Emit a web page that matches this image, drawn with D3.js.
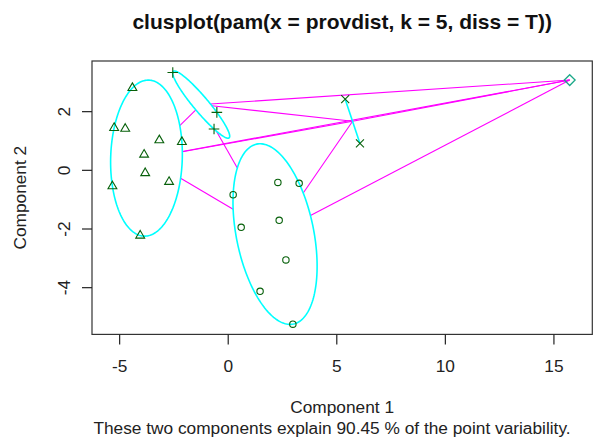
<!DOCTYPE html>
<html>
<head>
<meta charset="utf-8">
<script src="https://cdn.jsdelivr.net/npm/d3@7"></script>
<style>
  html, body { margin: 0; padding: 0; background: #fff; }
  svg { display: block; font-family: "Liberation Sans", Arial, sans-serif; }
</style>
</head>
<body>
<svg id="chart" width="594" height="437"></svg>
<script>
// Principal-component coordinates of each observation, grouped by PAM cluster
const cluster1 = [ // circles
  [2.31, -0.43], [3.29, -0.46], [0.25, -0.85], [2.37, -1.72],
  [0.62, -1.96], [2.68, -3.07], [1.49, -4.14], [3.00, -5.26]
];
const cluster2 = [ // triangles
  [-4.39, 2.79], [-5.23, 1.43], [-4.72, 1.40], [-3.15, 1.01], [-2.11, 0.95],
  [-3.85, 0.52], [-3.80, -0.11], [-2.70, -0.41], [-5.31, -0.56], [-4.03, -2.24]
];
const cluster3 = [ // plus signs
  [-2.53, 3.32], [-0.50, 1.96], [-0.63, 1.39]
];
const cluster4 = [ // crosses
  [5.41, 2.41], [6.09, 0.90]
];
const cluster5 = [ // diamond
  [15.75, 3.06]
];
const clusters = [cluster1, cluster2, cluster3, cluster4, cluster5];
const symbols = ["circle", "triangle", "plus", "cross", "diamond"];

const xTicks = [-5, 0, 5, 10, 15];
const yTicks = [-4, -2, 0, 2];
const xLimits = [-6.25, 16.79];
const yLimits = [-5.61, 3.71];

const titleText = "clusplot(pam(x = provdist, k = 5, diss = T))";
const xLabel = "Component 1";
const yLabel = "Component 2";
const subText = "These two components explain 90.45 % of the point variability.";

const plot = { left: 92, right: 592.3, top: 61, bottom: 334.4 };
const svg = d3.select("#chart");

const x = d3.scaleLinear().domain(xLimits).range([plot.left, plot.right]);
const y = d3.scaleLinear().domain(yLimits).range([plot.bottom, plot.top]);

// ---- minimum-area enclosing ellipse (Khachiyan iteration) ----
function inv3(m) {
  const [a, b, c] = m[0], [d, e, f] = m[1], [g, h, i] = m[2];
  const A = e * i - f * h, B = -(d * i - f * g), C = d * h - e * g;
  const det = a * A + b * B + c * C;
  return [
    [A / det, -(b * i - c * h) / det, (b * f - c * e) / det],
    [B / det, (a * i - c * g) / det, -(a * f - c * d) / det],
    [C / det, -(a * h - b * g) / det, (a * e - b * d) / det]
  ];
}
function enclosingEllipse(pts) {
  const n = pts.length;
  if (n === 1) return { c: pts[0], kind: "point" };
  if (n === 2) return { c: [(pts[0][0] + pts[1][0]) / 2, (pts[0][1] + pts[1][1]) / 2], kind: "segment" };
  const q = pts.map(p => [p[0], p[1], 1]);
  let u = pts.map(() => 1 / n);
  for (let it = 0; it < 20000; it++) {
    const X = [[0, 0, 0], [0, 0, 0], [0, 0, 0]];
    q.forEach((v, k) => { for (let r = 0; r < 3; r++) for (let s = 0; s < 3; s++) X[r][s] += u[k] * v[r] * v[s]; });
    const Xi = inv3(X);
    const M = q.map(v => { let s = 0; for (let r = 0; r < 3; r++) for (let t = 0; t < 3; t++) s += v[r] * Xi[r][t] * v[t]; return s; });
    let j = 0; M.forEach((m, k) => { if (m > M[j]) j = k; });
    const step = (M[j] - 3) / (3 * (M[j] - 1));
    const nu = u.map(w => (1 - step) * w); nu[j] += step;
    const err = Math.sqrt(d3.sum(nu, (w, k) => (w - u[k]) ** 2));
    u = nu;
    if (err < 1e-9) break;
  }
  const c = [d3.sum(pts, (p, k) => u[k] * p[0]), d3.sum(pts, (p, k) => u[k] * p[1])];
  let sxx = 0, sxy = 0, syy = 0;
  pts.forEach((p, k) => { sxx += u[k] * p[0] * p[0]; sxy += u[k] * p[0] * p[1]; syy += u[k] * p[1] * p[1]; });
  sxx -= c[0] * c[0]; sxy -= c[0] * c[1]; syy -= c[1] * c[1];
  // shape matrix S scaled so the ellipse is {c + L z : |z| <= 1}, S = 2 * cov
  const S = [[2 * sxx, 2 * sxy], [2 * sxy, 2 * syy]];
  const det = S[0][0] * S[1][1] - S[0][1] * S[1][0];
  const A = [[S[1][1] / det, -S[0][1] / det], [-S[1][0] / det, S[0][0] / det]];
  const l11 = Math.sqrt(S[0][0]), l21 = S[1][0] / l11, l22 = Math.sqrt(S[1][1] - l21 * l21);
  return { c, A, L: [[l11, 0], [l21, l22]], kind: "ellipse" };
}
const hulls = clusters.map(enclosingEllipse);

// ---- drawing ----
// plot frame
svg.append("rect")
  .attr("x", plot.left).attr("y", plot.top)
  .attr("width", plot.right - plot.left).attr("height", plot.bottom - plot.top)
  .attr("fill", "none").attr("stroke", "#333").attr("stroke-width", 1.2);

// segments joining cluster boundaries along the centre line
const linkG = svg.append("g").attr("stroke", "#ff00ff").attr("stroke-width", 1.1).attr("fill", "none");
function exitFraction(h, dv) {
  if (h.kind !== "ellipse") return 0;
  const A = h.A;
  const qf = dv[0] * (A[0][0] * dv[0] + A[0][1] * dv[1]) + dv[1] * (A[1][0] * dv[0] + A[1][1] * dv[1]);
  return 1 / Math.sqrt(qf);
}
for (let i = 0; i < hulls.length - 1; i++) {
  for (let j = i + 1; j < hulls.length; j++) {
    const ci = hulls[i].c, cj = hulls[j].c;
    const dv = [cj[0] - ci[0], cj[1] - ci[1]];
    const ti = exitFraction(hulls[i], dv), tj = exitFraction(hulls[j], dv);
    if (ti + tj >= 1) continue;
    const p1 = [ci[0] + ti * dv[0], ci[1] + ti * dv[1]];
    const p2 = [cj[0] - tj * dv[0], cj[1] - tj * dv[1]];
    linkG.append("line")
      .attr("x1", x(p1[0])).attr("y1", y(p1[1]))
      .attr("x2", x(p2[0])).attr("y2", y(p2[1]));
  }
}

// cluster outlines
const hullG = svg.append("g").attr("stroke", "#00ffff").attr("stroke-width", 1.6).attr("fill", "none");
const line = d3.line().x(d => x(d[0])).y(d => y(d[1]));
hulls.forEach((h, k) => {
  if (h.kind === "ellipse") {
    const ring = d3.range(0, 361, 2).map(a => {
      const t = a * Math.PI / 180, zx = Math.cos(t), zy = Math.sin(t);
      return [h.c[0] + h.L[0][0] * zx, h.c[1] + h.L[1][0] * zx + h.L[1][1] * zy];
    });
    hullG.append("path").attr("d", line(ring));
  } else if (h.kind === "segment") {
    hullG.append("path").attr("d", line(clusters[k]));
  }
});

// observation markers
const ptG = svg.append("g").attr("fill", "none").attr("stroke", "#07600a").attr("stroke-width", 1.1);
function marker(sym, px, py) {
  switch (sym) {
    case "circle":
      return ptG.append("circle").attr("cx", px).attr("cy", py).attr("r", 3.2);
    case "triangle": {
      const r = 5.1, xc = r * 0.866, yc = r / 2;
      return ptG.append("path").attr("d", `M${px},${py - r}L${px + xc},${py + yc}L${px - xc},${py + yc}Z`);
    }
    case "plus": {
      const s = 5.3;
      return ptG.append("path").attr("d", `M${px - s},${py}H${px + s}M${px},${py - s}V${py + s}`);
    }
    case "cross": {
      const s = 4;
      return ptG.append("path").attr("d", `M${px - s},${py - s}L${px + s},${py + s}M${px - s},${py + s}L${px + s},${py - s}`);
    }
    case "diamond": {
      const s = 5.4;
      return ptG.append("path").attr("d", `M${px},${py - s}L${px + s},${py}L${px},${py + s}L${px - s},${py}Z`)
        .attr("stroke", "#1aa888").attr("stroke-width", 1.3);
    }
  }
}
clusters.forEach((pts, k) => pts.forEach(p => marker(symbols[k], x(p[0]), y(p[1]))));

// axes
const xAxis = svg.append("g").attr("transform", `translate(0,${plot.bottom})`)
  .call(d3.axisBottom(x).tickValues(xTicks).tickSize(10).tickFormat(d3.format("d")));
const yAxis = svg.append("g").attr("transform", `translate(${plot.left},0)`)
  .call(d3.axisLeft(y).tickValues(yTicks).tickSize(10).tickFormat(d3.format("d")));
[xAxis, yAxis].forEach(g => {
  g.select(".domain").remove();
  g.selectAll(".tick line").attr("stroke", "#222").attr("stroke-width", 1.2);
  g.selectAll(".tick text").attr("fill", "#222").attr("font-size", 17.3)
    .attr("font-family", "Liberation Sans, Arial, sans-serif");
});
xAxis.selectAll(".tick text").attr("y", 38).attr("dy", 0).text(d => d < 0 ? "-" + Math.abs(d) : d);
yAxis.selectAll(".tick text")
  .attr("transform", "rotate(-90)").attr("text-anchor", "middle")
  .attr("x", 0).attr("y", -22).attr("dy", 0)
  .text(d => d < 0 ? "-" + Math.abs(d) : d);

// titles
const cx = (plot.left + plot.right) / 2;
svg.append("text").attr("x", cx).attr("y", 28.5).attr("text-anchor", "middle")
  .attr("font-size", 21).attr("font-weight", "bold").attr("fill", "#111").text(titleText);
svg.append("text").attr("x", cx).attr("y", 413).attr("text-anchor", "middle")
  .attr("font-size", 17.3).attr("fill", "#222").text(xLabel);
svg.append("text").attr("transform", `translate(25.5,${(plot.top + plot.bottom) / 2}) rotate(-90)`)
  .attr("text-anchor", "middle").attr("font-size", 17.3).attr("fill", "#222").text(yLabel);
svg.append("text").attr("x", 332).attr("y", 434).attr("text-anchor", "middle")
  .attr("font-size", 17.3).attr("fill", "#222").text(subText);
</script>
</body>
</html>
